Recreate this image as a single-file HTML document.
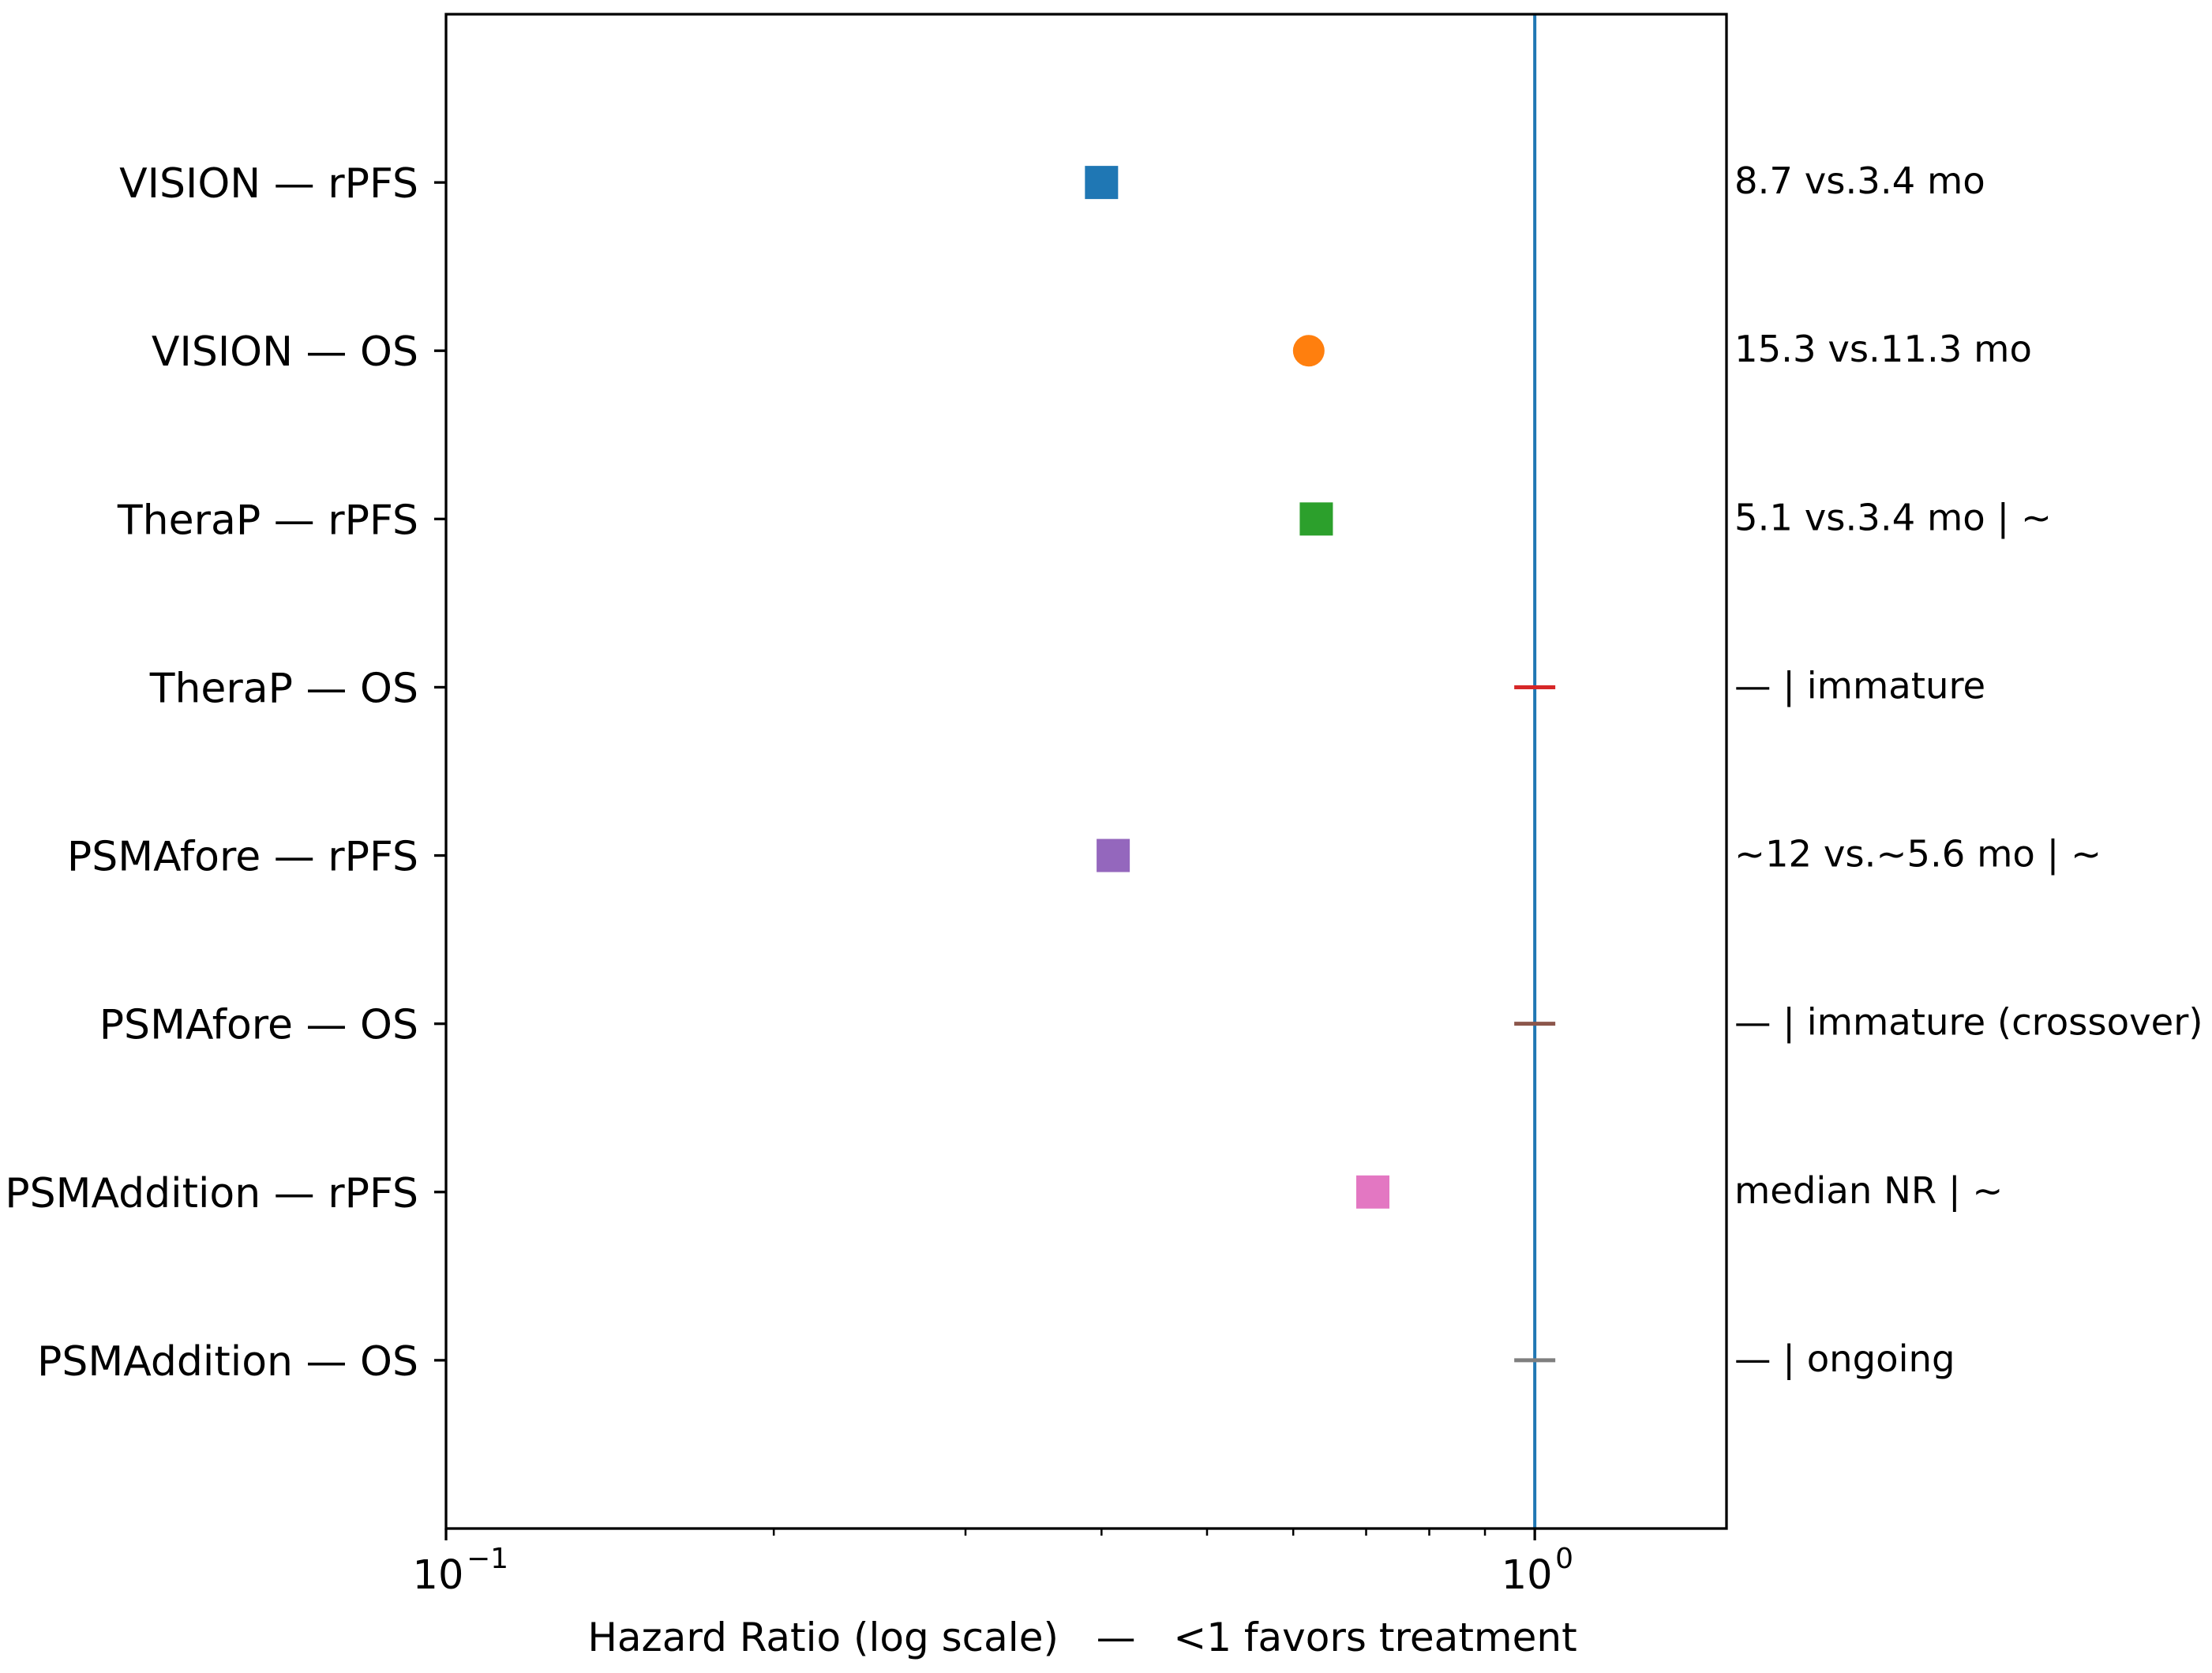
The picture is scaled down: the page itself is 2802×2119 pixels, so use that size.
<!DOCTYPE html>
<html><head><meta charset="utf-8"><style>
html,body{margin:0;padding:0;background:#fff;}
svg{display:block;font-family:"DejaVu Sans","Liberation Sans",sans-serif;}
</style></head><body>
<svg id="chart" width="2802" height="2119" viewBox="0 0 2802 2119" xmlns="http://www.w3.org/2000/svg"></svg>
<script>
const categories = ["VISION — rPFS","VISION — OS","TheraP — rPFS","TheraP — OS","PSMAfore — rPFS","PSMAfore — OS","PSMAddition — rPFS","PSMAddition — OS"];
const hrValues = [0.40, 0.62, 0.63, 1.0, 0.41, 1.0, 0.71, 1.0];
const markerTypes = ["s","o","s","_","s","_","s","_"];
const colors = ["#1f77b4","#ff7f0e","#2ca02c","#d62728","#9467bd","#8c564b","#e377c2","#7f7f7f"];
const annotations = ["8.7 vs.3.4 mo","15.3 vs.11.3 mo","5.1 vs.3.4 mo | ~","— | immature","~12 vs.~5.6 mo | ~","— | immature (crossover)","median NR | ~","— | ongoing"];
const xMajorTicks = [0.1, 1.0];
const xMajorLabels = ["10","10"];
const xMajorExps = ["−1","0"];
const xMinorTicks = [0.2,0.3,0.4,0.5,0.6,0.7,0.8,0.9];
const refLine = 1.0;

const L=565,R=2187,T=18,B=1936;
const xMin=0.1,xMax=1.5;
const sx=v=>L+(Math.log10(v)-Math.log10(xMin))/(Math.log10(xMax)-Math.log10(xMin))*(R-L);
const sy=i=>T+(i+1)/(categories.length+1)*(B-T);
const svg=document.getElementById('chart');
const NS="http://www.w3.org/2000/svg";
function mk(tag,attrs,parent){const e=document.createElementNS(NS,tag);for(const k in attrs)e.setAttribute(k,attrs[k]);(parent||svg).appendChild(e);return e;}

const ref=mk('line',{x1:sx(refLine),x2:sx(refLine),y1:T,y2:B,stroke:'#1f77b4','stroke-width':4});



categories.forEach((c,i)=>{
  const y=sy(i),x=sx(hrValues[i]);
  let m;
  if(markerTypes[i]==='s'){m=mk('rect',{x:x-21,y:y-21,width:42,height:42,fill:colors[i]});}
  else if(markerTypes[i]==='o'){m=mk('circle',{cx:x,cy:y,r:20,fill:colors[i]});}
  else {m=mk('line',{x1:x-26,x2:x+26,y1:y,y2:y,stroke:colors[i],'stroke-width':5});}
  
  
  const t=mk('line',{x1:L-15,x2:L,y1:y,y2:y,stroke:'#000','stroke-width':3.3});
  
  
  const lb=mk('text',{x:L-35,y:y+19,'font-size':52,'text-anchor':'end',fill:'#000'});
  lb.textContent=c;
  
  
  const an=mk('text',{x:2197,y:y+14,'font-size':46.5,fill:'#000'});
  an.textContent=annotations[i];
  
  
});

const fr=mk('rect',{x:L,y:T,width:R-L,height:B-T,fill:'none',stroke:'#000','stroke-width':3.3});



xMinorTicks.forEach(v=>{
  const t=mk('line',{x1:sx(v),x2:sx(v),y1:B,y2:B+9,stroke:'#000','stroke-width':2.5});
  
  
});
xMajorTicks.forEach((v,i)=>{
  const t=mk('line',{x1:sx(v),x2:sx(v),y1:B,y2:B+15,stroke:'#000','stroke-width':3.3});
  
  
  const lb=mk('text',{x:sx(v)-10,y:B+76,'font-size':51,'text-anchor':'middle',fill:'#000'});
  lb.textContent=xMajorLabels[i];
  
  
  const ex=mk('text',{x:sx(v)+26,y:B+50,'font-size':36,'text-anchor':'start',fill:'#000'});
  ex.textContent=xMajorExps[i];
  
  
});

const xl=mk('text',{x:(L+R)/2-5,y:2091,'font-size':50,'text-anchor':'middle',fill:'#000'});
xl.setAttribute('xml:space','preserve');
xl.style.whiteSpace='pre';
xl.textContent="Hazard Ratio (log scale)  \u00a0—\u00a0  <1 favors treatment";


</script>
</body></html>
